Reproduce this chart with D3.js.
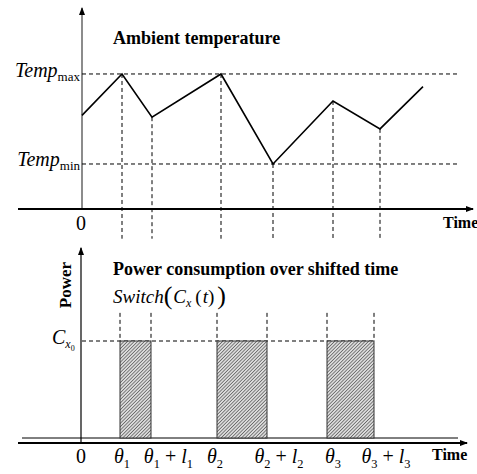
<!DOCTYPE html>
<html>
<head>
<meta charset="utf-8" />
<script src="https://d3js.org/d3.v7.min.js"></script>
</head>
<body style="margin:0;background:#fff">
<svg id="viz" width="477" height="474" style="display:block"></svg>
<script>
// ambient temperature (normalised: 0 = Temp_min, 1 = Temp_max)
const tempTimes = [0, 10, 17.5, 34.75, 47.75, 62.75, 74.5, 85.25];
const tempValues = [0.54, 1, 0.52, 1, 0, 0.7, 0.39, 0.86];

// switched appliance: start times and durations, power level C_x0 = 1
const switchStart = [9.5, 33.75, 61.25];
const switchLength = [7.75, 12.5, 11.75];
const switchPower = 1;

// x axis labels of the power panel
const tickTimes = [0, 10, 21.6, 33.25, 49.25, 62.75, 76];
const tickLabels = ["0", "θ_1", "θ_1 + l_1", "θ_2", "θ_2 + l_2", "θ_3", "θ_3 + l_3"];

const FONT = "Liberation Serif";
const svg = d3.select("#viz");

const x = d3.scaleLinear().domain([0, 100]).range([82, 482]);
const yTemp = d3.scaleLinear().domain([-0.5, 1.733]).range([209, 8]);
const yPow = d3.scaleLinear().domain([0, 1]).range([438, 341]);

const defs = svg.append("defs");
defs.append("marker")
  .attr("id", "arrow")
  .attr("markerUnits", "userSpaceOnUse")
  .attr("markerWidth", 8).attr("markerHeight", 6)
  .attr("refX", 7).attr("refY", 3)
  .attr("orient", "auto")
  .append("path").attr("d", "M0,0 L8,3 L0,6 Z").attr("fill", "#000");

const hatch = defs.append("pattern")
  .attr("id", "hatch")
  .attr("patternUnits", "userSpaceOnUse")
  .attr("width", 2.4).attr("height", 2.4)
  .attr("patternTransform", "rotate(45)");
hatch.append("rect").attr("width", 2.4).attr("height", 2.4).attr("fill", "#dcdcdc");
hatch.append("line").attr("x1", 0).attr("y1", 0).attr("x2", 0).attr("y2", 2.4)
  .attr("stroke", "#333").attr("stroke-width", 1.1);

function mathText(sel, str, size) {
  let sub = false, shift = 0;
  for (const c of str) {
    if (c === "_") { sub = true; continue; }
    const ts = sel.append("tspan").text(c === " " ? "\u00a0" : c)
      .attr("font-style", /[A-Za-zθ]/.test(c) ? "italic" : "normal");
    if (sub) {
      ts.attr("font-size", size * 0.62).attr("dy", size * 0.26);
      shift = size * 0.26; sub = false;
    } else {
      ts.attr("font-size", size);
      if (shift) { ts.attr("dy", -shift); shift = 0; }
    }
  }
}

// ---------- top panel: ambient temperature ----------
const gTop = svg.append("g");

gTop.append("line")
  .attr("x1", x(0)).attr("x2", x(0))
  .attr("y1", yTemp(-0.5)).attr("y2", yTemp(1.733))
  .attr("stroke", "#666").attr("stroke-width", 1.5)
  .attr("marker-end", "url(#arrow)");

gTop.append("line")
  .attr("x1", x(-16)).attr("x2", x(97.75))
  .attr("y1", yTemp(-0.5)).attr("y2", yTemp(-0.5))
  .attr("stroke", "#000").attr("stroke-width", 2)
  .attr("marker-end", "url(#arrow)");

gTop.selectAll("line.hguide")
  .data([1, 0])
  .join("line")
  .attr("class", "hguide")
  .attr("x1", x(0)).attr("x2", x(94.5))
  .attr("y1", d => yTemp(d)).attr("y2", d => yTemp(d))
  .attr("stroke", "#000").attr("stroke-width", 1).attr("stroke-dasharray", "4,3");

const pts = tempTimes.map((t, i) => [t, tempValues[i]]);
gTop.selectAll("line.vguide")
  .data(pts.slice(1, -1))
  .join("line")
  .attr("class", "vguide")
  .attr("x1", d => x(d[0])).attr("x2", d => x(d[0]))
  .attr("y1", d => yTemp(d[1])).attr("y2", yTemp(-0.83))
  .attr("stroke", "#000").attr("stroke-width", 1).attr("stroke-dasharray", "4,3");

gTop.append("path")
  .datum(pts)
  .attr("fill", "none").attr("stroke", "#000").attr("stroke-width", 1.6)
  .attr("d", d3.line().x(d => x(d[0])).y(d => yTemp(d[1])));

gTop.append("text").attr("x", 113).attr("y", 44)
  .attr("font-size", 18).attr("font-weight", "bold")
  .text("Ambient temperature");

[[1, "max"], [0, "min"]].forEach(([v, s]) => {
  const t = gTop.append("text").attr("x", 80).attr("y", yTemp(v) + 3 + (v ? 0 : -1))
    .attr("text-anchor", "end");
  t.append("tspan").text("Temp").attr("font-style", "italic").attr("font-size", 20);
  t.append("tspan").text(s).attr("font-size", 13).attr("dy", 4);
});

gTop.append("text").attr("x", x(0) - 1).attr("y", 230)
  .attr("text-anchor", "middle").attr("font-size", 20).text("0");
gTop.append("text").attr("x", 443).attr("y", 228)
  .attr("font-size", 16).attr("font-weight", "bold").text("Time");

// ---------- bottom panel: power consumption ----------
const gBot = svg.append("g");

gBot.append("line")
  .attr("x1", x(-15)).attr("x2", x(94))
  .attr("y1", yPow(0)).attr("y2", yPow(0))
  .attr("stroke", "#000").attr("stroke-width", 1);

gBot.append("line")
  .attr("x1", x(-0.25)).attr("x2", x(-0.25))
  .attr("y1", yPow(-0.052)).attr("y2", yPow(1.96))
  .attr("stroke", "#000").attr("stroke-width", 1.2)
  .attr("marker-end", "url(#arrow)");

gBot.append("line")
  .attr("x1", x(-16)).attr("x2", x(96.25))
  .attr("y1", yPow(-0.052)).attr("y2", yPow(-0.052))
  .attr("stroke", "#000").attr("stroke-width", 2)
  .attr("marker-end", "url(#arrow)");

const last = switchStart.length - 1;
gBot.append("line")
  .attr("x1", x(0)).attr("x2", x(switchStart[last] + switchLength[last]))
  .attr("y1", yPow(switchPower)).attr("y2", yPow(switchPower))
  .attr("stroke", "#000").attr("stroke-width", 1).attr("stroke-dasharray", "4,3");

const bars = switchStart.map((s, i) => ({ s, e: s + switchLength[i] }));
gBot.selectAll("rect.bar")
  .data(bars)
  .join("rect")
  .attr("class", "bar")
  .attr("x", d => x(d.s)).attr("width", d => x(d.e) - x(d.s))
  .attr("y", yPow(switchPower)).attr("height", yPow(0) - yPow(switchPower))
  .attr("fill", "url(#hatch)")
  .attr("stroke", "#333").attr("stroke-width", 1);

const edges = bars.flatMap(d => [d.s, d.e]);
gBot.selectAll("line.vguide")
  .data(edges)
  .join("line")
  .attr("class", "vguide")
  .attr("x1", d => x(d)).attr("x2", d => x(d))
  .attr("y1", yPow(1.29)).attr("y2", yPow(switchPower))
  .attr("stroke", "#000").attr("stroke-width", 1).attr("stroke-dasharray", "4,3");

gBot.append("text")
  .attr("transform", "translate(71,285) rotate(-90)")
  .attr("text-anchor", "middle")
  .attr("font-size", 17).attr("font-weight", "bold")
  .text("Power");

gBot.append("text").attr("x", 113).attr("y", 275)
  .attr("font-size", 18).attr("font-weight", "bold")
  .text("Power consumption over shifted time");

const sw = gBot.append("text").attr("x", 113).attr("y", 303);
sw.append("tspan").text("Switch").attr("font-style", "italic").attr("font-size", 19);
sw.append("tspan").text("(").attr("font-size", 26).attr("dy", 1);
sw.append("tspan").text("C").attr("font-style", "italic").attr("font-size", 19).attr("dy", -1).attr("dx", 1);
sw.append("tspan").text("x").attr("font-style", "italic").attr("font-size", 12).attr("dy", 4);
sw.append("tspan").text("(").attr("font-size", 19).attr("dy", -4).attr("dx", 4);
sw.append("tspan").text("t").attr("font-style", "italic").attr("font-size", 19).attr("dx", 1);
sw.append("tspan").text(")").attr("font-size", 19);
sw.append("tspan").text(")").attr("font-size", 26).attr("dy", 1).attr("dx", 3);

const cx = gBot.append("text").attr("x", 52).attr("y", yPow(switchPower) + 3);
cx.append("tspan").text("C").attr("font-style", "italic").attr("font-size", 20);
cx.append("tspan").text("x").attr("font-style", "italic").attr("font-size", 12).attr("dy", 4);
cx.append("tspan").text("0").attr("font-size", 8).attr("dy", 3);

tickTimes.forEach((t, i) => {
  const lab = gBot.append("text")
    .attr("x", x(t) - (i === 0 ? 1 : 0)).attr("y", 463)
    .attr("text-anchor", "middle");
  if (i === 0) lab.attr("font-size", 20).text(tickLabels[i]);
  else mathText(lab, tickLabels[i], 20);
});

gBot.append("text").attr("x", 432).attr("y", 460)
  .attr("font-size", 16).attr("font-weight", "bold").text("Time");

// serif face on every text piece
svg.selectAll("text, tspan")
  .attr("font-family", FONT)
  .style("font-family", `"${FONT}", serif`)
  .attr("fill", "#000");
</script>
</body>
</html>
